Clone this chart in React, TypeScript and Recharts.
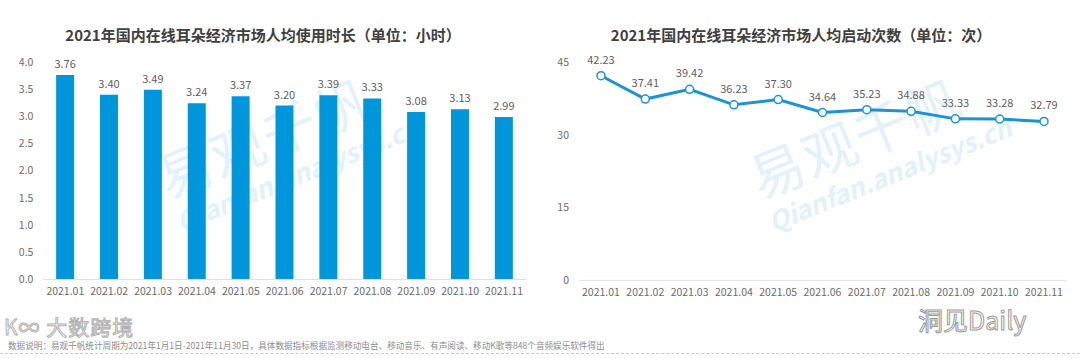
import React from 'react';
import { BarChart, Bar, LineChart, Line, XAxis, YAxis, LabelList } from 'recharts';

const months = ['2021.01', '2021.02', '2021.03', '2021.04', '2021.05', '2021.06', '2021.07', '2021.08', '2021.09', '2021.10', '2021.11'];
const usageHours = [3.76, 3.40, 3.49, 3.24, 3.37, 3.20, 3.39, 3.33, 3.08, 3.13, 2.99];
const launchCounts = [42.23, 37.41, 39.42, 36.23, 37.30, 34.64, 35.23, 34.88, 33.33, 33.28, 32.79];
const leftTicks = [0, 0.5, 1.0, 1.5, 2.0, 2.5, 3.0, 3.5, 4.0];
const rightTicks = [0, 15, 30, 45];

const leftTitle = '2021年国内在线耳朵经济市场人均使用时长（单位：小时）';
const rightTitle = '2021年国内在线耳朵经济市场人均启动次数（单位：次）';
const footnote = '数据说明：易观千帆统计周期为2021年1月1日-2021年11月30日，具体数据指标根据监测移动电台、移动音乐、有声阅读、移动K歌等848个音频娱乐软件得出';

const barData = months.map((m, i) => ({ month: m, value: usageHours[i] }));
const lineData = months.map((m, i) => ({ month: m, value: launchCounts[i] }));

const FONT = '"Noto Sans CJK SC", "Open Sans", sans-serif';
const BLUE = '#0096dc';
const tickStyle = { fontSize: 10.5, fill: '#6b6b6b', fontFamily: FONT };

const Watermark = ({ left }: { left: number }) => (
  <div style={{ position: 'absolute', left, top: 92, width: 280, height: 170, pointerEvents: 'none', transform: 'rotate(-22deg)', fontFamily: FONT, color: '#e2f1fb' }}>
    <div style={{ fontSize: 54, fontWeight: 400, letterSpacing: 2, lineHeight: '60px' }}>易观千帆</div>
    <div style={{ fontSize: 26, fontWeight: 700, fontStyle: 'italic', marginTop: -2 }}>Qianfan.analysys.cn</div>
  </div>
);

export default function App() {
  return (
    <div style={{ position: 'absolute', left: 0, top: 0, width: 1080, height: 358, background: '#fff', overflow: 'hidden', fontFamily: FONT }}>
      <Watermark left={170} />
      <Watermark left={762} />
      <div style={{ position: 'absolute', left: 0, top: 0 }}>
        <BarChart width={540} height={358} data={barData} margin={{ top: 62, right: 14, bottom: 48.5, left: 0 }} barCategoryGap="29%">
          <text x={263} y={41} textAnchor="middle" style={{ fontSize: 15, fontWeight: 700, fill: '#404040', fontFamily: FONT }}>{leftTitle}</text>
          <XAxis dataKey="month" tickLine={false} axisLine={{ stroke: '#e0e0e0' }} tick={tickStyle} interval={0} height={30} />
          <YAxis domain={[0, 4]} ticks={leftTicks} tickFormatter={(v: number) => v.toFixed(1)} axisLine={false} tickLine={false} tickMargin={4} width={43.4} tick={tickStyle} />
          <Bar dataKey="value" fill={BLUE} isAnimationActive={false}>
            <LabelList dataKey="value" position="top" offset={7} formatter={(v: number) => v.toFixed(2)} style={{ fontSize: 11, fill: '#5e5e5e', fontFamily: FONT }} />
          </Bar>
        </BarChart>
      </div>
      <div style={{ position: 'absolute', left: 540, top: 0 }}>
        <LineChart width={540} height={358} data={lineData} margin={{ top: 62.3, right: 14, bottom: 47.6, left: 0 }}>
          <text x={261} y={41} textAnchor="middle" style={{ fontSize: 15, fontWeight: 700, fill: '#404040', fontFamily: FONT }}>{rightTitle}</text>
          <XAxis dataKey="month" tickLine={false} axisLine={{ stroke: '#e0e0e0' }} tick={tickStyle} interval={0} height={30} padding={{ left: 22, right: 22 }} />
          <YAxis domain={[0, 45]} ticks={rightTicks} axisLine={false} tickLine={false} tickMargin={4} width={39} tick={tickStyle} />
          <Line type="linear" dataKey="value" stroke="#1a94d6" strokeWidth={3} dot={{ r: 4, fill: '#fff', stroke: '#1a94d6', strokeWidth: 1.5 }} isAnimationActive={false}>
            <LabelList dataKey="value" position="top" offset={12} formatter={(v: number) => v.toFixed(2)} style={{ fontSize: 11, fill: '#5e5e5e', fontFamily: FONT }} />
          </Line>
        </LineChart>
      </div>
      <div style={{ position: 'absolute', left: 8, top: 339, fontSize: 8.6, lineHeight: '12px', color: '#8c8c8c', whiteSpace: 'nowrap' }}>{footnote}</div>
      <div style={{ position: 'absolute', left: 4, top: 315, fontSize: 21, lineHeight: '23px', color: 'rgba(255,255,255,0.6)', WebkitTextStroke: '1px #b0b0b0', whiteSpace: 'nowrap', letterSpacing: 1 }}>K∞ 大数跨境</div>
      <div style={{ position: 'absolute', left: 918, top: 306, fontSize: 25, lineHeight: '26px', color: 'rgba(255,255,255,0.6)', WebkitTextStroke: '1px #9a9a9a', whiteSpace: 'nowrap' }}>洞见Daily</div>
      <div style={{ position: 'absolute', left: 0, top: 353, width: 1080, borderTop: '1px dashed #c8c8c8' }} />
    </div>
  );
}
